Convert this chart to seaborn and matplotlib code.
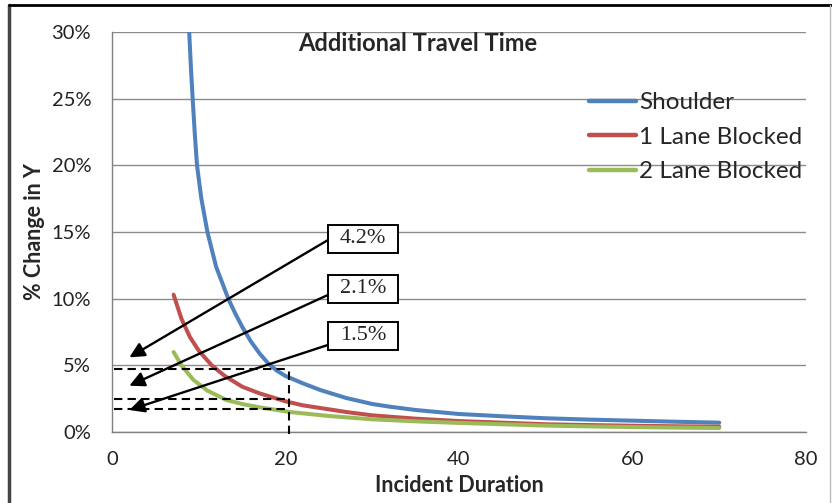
import matplotlib
matplotlib.use("Agg")
import matplotlib.pyplot as plt
import seaborn as sns
import pandas as pd
from matplotlib.lines import Line2D
from matplotlib.patches import Rectangle

# ---- data ----
shoulder_x = [8.9, 9.1, 9.3, 9.55, 9.8, 10.3, 11, 12, 13.4, 14.2, 15, 16, 17, 18, 19, 20, 22, 24, 27, 30, 32, 35, 40, 45, 50, 55, 60, 65, 70]
shoulder_y = [30.0, 27.3, 25.0, 22.3, 20.0, 17.5, 15.0, 12.4, 10.0, 8.9, 7.9, 6.8, 5.9, 5.15, 4.6, 4.2, 3.65, 3.15, 2.55, 2.1, 1.9, 1.65, 1.35, 1.18, 1.03, 0.93, 0.85, 0.77, 0.70]

lane1_x = [7.1, 8, 9, 10, 11.5, 13, 15, 17, 20, 22, 24, 27, 30, 32, 35, 40, 45, 50, 55, 60, 65, 70]
lane1_y = [10.3, 8.5, 7.1, 6.1, 5.0, 4.2, 3.4, 2.9, 2.3, 2.0, 1.8, 1.5, 1.25, 1.15, 1.0, 0.82, 0.7, 0.58, 0.52, 0.47, 0.43, 0.40]

lane2_x = [7.1, 8, 9.4, 11, 13.2, 15, 17, 20.5, 25, 30, 35, 40, 45, 50, 55, 60, 65, 70]
lane2_y = [6.0, 5.0, 3.9, 3.1, 2.4, 2.1, 1.85, 1.5, 1.2, 0.95, 0.8, 0.68, 0.58, 0.48, 0.42, 0.37, 0.33, 0.30]

series_names = ["Shoulder", "1 Lane Blocked", "2 Lane Blocked"]
series_colors = ["#4F81BD", "#C0504D", "#9BBB59"]

x_ticks = [0, 20, 40, 60, 80]
y_ticks = [0, 5, 10, 15, 20, 25, 30]

# annotations
annot_texts = ["4.2%", "2.1%", "1.5%"]
annot_box_x = [28.93, 28.93, 28.93]
annot_box_y = [14.48, 10.73, 7.2]
annot_tail_x = [24.9, 24.9, 24.9]
annot_tail_y = [14.4, 10.28, 6.53]
annot_head_x = [2.0, 2.0, 2.0]
annot_head_y = [5.6, 3.47, 1.65]

dashed_y = [4.7, 2.45, 1.7]
dashed_x_start = 0.2
dashed_x_end = 20.4

# ---- build frame ----
df = pd.concat([
    pd.DataFrame({"x": shoulder_x, "y": shoulder_y, "series": series_names[0]}),
    pd.DataFrame({"x": lane1_x, "y": lane1_y, "series": series_names[1]}),
    pd.DataFrame({"x": lane2_x, "y": lane2_y, "series": series_names[2]}),
], ignore_index=True)

sns.set_style("white")
plt.rcParams["font.family"] = ["Lato", "DejaVu Sans"]

fig = plt.figure(figsize=(8.32, 5.03), dpi=100)
ax = fig.add_axes([112 / 832, 1 - 432 / 503, 694 / 832, 400 / 503])

sns.lineplot(data=df, x="x", y="y", hue="series", hue_order=series_names,
             palette=series_colors, estimator=None, sort=False, linewidth=2.9,
             ax=ax, legend=False)
for ln in ax.get_lines():
    ln.set_solid_capstyle("round")
    ln.set_solid_joinstyle("round")

ax.set_xlim(0, 80)
ax.set_ylim(0, 30)
ax.set_xticks(x_ticks)
ax.set_yticks(y_ticks)
ax.set_xticklabels([str(t) for t in x_ticks], fontsize=14.5, color="#222222")
ax.set_yticklabels([f"{t}%" for t in y_ticks], fontsize=14.5, color="#222222")
ax.tick_params(axis="x", direction="out", length=6, width=1, color="#808080", pad=8)
ax.tick_params(axis="y", direction="out", length=5, width=1, color="#808080", pad=10)

ax.grid(axis="y", color="#8c8c8c", linewidth=1)
ax.grid(axis="x", visible=False)
ax.set_axisbelow(True)
for s in ["top", "right"]:
    ax.spines[s].set_visible(False)
for s in ["left", "bottom"]:
    ax.spines[s].set_color("#808080")
    ax.spines[s].set_linewidth(1)

ax.set_xlabel("Incident Duration", fontsize=15.5, fontweight="bold", labelpad=5)
ax.set_ylabel("% Change in Y", fontsize=15.5, fontweight="bold", labelpad=5)

ax.text(0.441, 0.97, "Additional Travel Time", transform=ax.transAxes,
        ha="center", va="center", fontsize=17, fontweight="bold")

# legend
handles = [Line2D([0], [0], color=c, lw=3.2) for c in series_colors]
ax.legend(handles, series_names, loc="upper left", bbox_to_anchor=(0.687, 0.85),
          frameon=False, fontsize=17.5, handlelength=1.95, handletextpad=0.12,
          labelspacing=0.56, borderpad=0, borderaxespad=0)

# dashed guide lines
ax.hlines(dashed_y, dashed_x_start, dashed_x_end, colors="black",
          linestyles=(0, (4, 2.5)), linewidth=1.5, zorder=5)
ax.vlines(dashed_x_end, -0.15, max(dashed_y), colors="black",
          linestyles=(0, (4, 2.5)), linewidth=1.5, zorder=5, clip_on=False)

# annotation boxes with arrows
box_w = 70 / 694 * 80
box_h = 28 / 400 * 30
for t, bx, by, tx, ty, hx, hy in zip(annot_texts, annot_box_x, annot_box_y,
                                     annot_tail_x, annot_tail_y, annot_head_x, annot_head_y):
    ax.annotate("", xy=(hx, hy), xytext=(tx, ty),
                arrowprops=dict(arrowstyle="-|>,head_length=0.9,head_width=0.45",
                                color="black", lw=1.7, shrinkA=0, shrinkB=0),
                zorder=6)
    ax.add_patch(Rectangle((bx - box_w / 2, by - box_h / 2), box_w, box_h,
                           facecolor="white", edgecolor="black", lw=1.4, zorder=7))
    ax.text(bx, by, t, ha="center", va="center", fontsize=16,
            family=["Liberation Serif", "DejaVu Serif"], zorder=8)

# outer frame of the chart picture
fig.add_artist(Line2D([9 / 832, 9 / 832], [0, 1 - 5 / 503], transform=fig.transFigure,
                      color="#444444", lw=2.5))
fig.add_artist(Line2D([9 / 832, 1], [1 - 5 / 503, 1 - 5 / 503], transform=fig.transFigure,
                      color="black", lw=2))
fig.add_artist(Line2D([830 / 832, 830 / 832], [0, 1 - 5 / 503], transform=fig.transFigure,
                      color="#bbbbbb", lw=1))

fig.savefig("out.png", dpi=100)
